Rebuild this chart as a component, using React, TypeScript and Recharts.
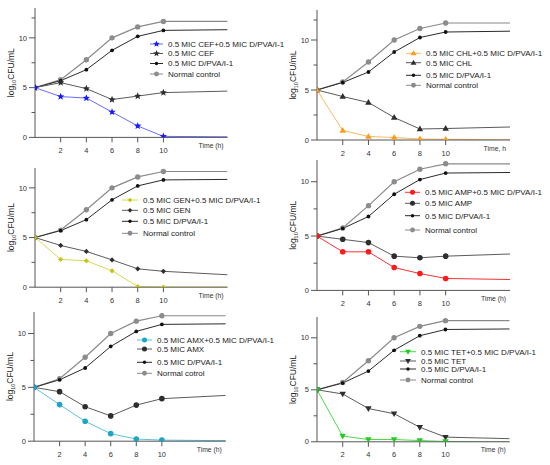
import React from 'react';
import { LineChart, Line, XAxis, YAxis, Label } from 'recharts';

// ---------- data ----------
const TIME = [0, 2, 4, 6, 8, 10, 15];
const TIME_TICKS = [2, 4, 6, 8, 10];

const normal1 = [5, 5.8, 7.8, 10, 11.1, 11.65, 11.65];
const dpva1 = [5, 5.7, 6.8, 8.75, 10.15, 10.75, 10.82];
const cef = [5, 5.5, 4.9, 3.8, 4.15, 4.5, 4.65];
const cefCombo = [5, 4.1, 3.95, 2.55, 1.15, 0.1, 0.06];

const normal2 = [5, 5.8, 7.8, 10, 11.15, 11.7, 11.7];
const dpva2 = [5, 5.75, 6.8, 8.8, 10.25, 10.8, 10.88];
const chl = [5, 4.35, 3.75, 2.25, 1.1, 1.15, 1.3];
const chlCombo = [5, 0.95, 0.35, 0.25, 0.1, 0.07, 0.02];

const normal3 = [5, 5.75, 7.8, 10, 11.1, 11.65, 11.65];
const dpva3 = [5, 5.7, 6.8, 8.8, 10.2, 10.8, 10.85];
const gen = [5, 4.2, 3.6, 2.75, 1.85, 1.6, 1.25];
const genCombo = [5, 2.8, 2.65, 1.65, 0.07, 0.02, 0.02];

const normal4 = [5, 5.75, 7.8, 10, 11.15, 11.65, 11.65];
const dpva4 = [5, 5.7, 6.8, 8.85, 10.2, 10.8, 10.85];
const amp = [5, 4.7, 4.4, 3.15, 3.0, 3.15, 3.35];
const ampCombo = [5, 3.55, 3.55, 2.1, 1.55, 1.1, 1.0];

const normal5 = [5, 5.8, 7.8, 10, 11.15, 11.65, 11.65];
const dpva5 = [5, 5.7, 6.8, 8.8, 10.2, 10.85, 10.9];
const amx = [5, 4.6, 3.2, 2.35, 3.35, 3.95, 4.25];
const amxCombo = [5, 3.4, 1.85, 0.7, 0.2, 0.1, 0.05];

const normal6 = [5, 5.7, 7.8, 10, 11.1, 11.65, 11.65];
const dpva6 = [5, 5.65, 6.8, 8.8, 10.2, 10.8, 10.85];
const tet = [5, 4.6, 3.2, 2.7, 1.4, 0.45, 0.3];
const tetCombo = [5, 0.55, 0.22, 0.22, 0.12, 0.03, 0.0];

const FONT = '"Liberation Sans", Arial, sans-serif';

type Shape = 'circle' | 'dot' | 'star' | 'tri' | 'tridown' | 'diamond';

function Marker({ shape, cx, cy, fill, size }: { shape: Shape; cx: number; cy: number; fill: string; size: number }) {
  if (shape === 'circle' || shape === 'dot') {
    return <circle cx={cx} cy={cy} r={size} fill={fill} />;
  }
  if (shape === 'star') {
    const pts: string[] = [];
    for (let i = 0; i < 10; i++) {
      const r = i % 2 === 0 ? size : size * 0.45;
      const a = -Math.PI / 2 + (i * Math.PI) / 5;
      pts.push(`${cx + r * Math.cos(a)},${cy + r * Math.sin(a)}`);
    }
    return <polygon points={pts.join(' ')} fill={fill} />;
  }
  if (shape === 'tri') {
    return <polygon points={`${cx},${cy - size} ${cx + size * 0.95},${cy + size * 0.65} ${cx - size * 0.95},${cy + size * 0.65}`} fill={fill} />;
  }
  if (shape === 'tridown') {
    return <polygon points={`${cx},${cy + size} ${cx + size * 0.95},${cy - size * 0.65} ${cx - size * 0.95},${cy - size * 0.65}`} fill={fill} />;
  }
  return <polygon points={`${cx},${cy - size} ${cx + size},${cy} ${cx},${cy + size} ${cx - size},${cy}`} fill={fill} />;
}

interface SeriesDef {
  key: string;
  name: string;
  values: number[];
  line: string;
  marker: string;
  shape: Shape;
  size: number;
  width: number;
}

interface PanelDef {
  px0: number;
  px1: number;
  py0: number;
  pyTop: number;
  yTop: number;
  yTicks: number[];
  xLabel: string;
  series: SeriesDef[]; // legend order
  legendLineX: number;
  legendTextX: number;
  legendRows: number[];
}

const NORMAL_LINE = '#8a8a8a';
const DPVA_LINE = '#2a2a2a';
const DRUG_LINE = '#5a5a5a';

function mk(
  drugName: string,
  comboVals: number[],
  drugVals: number[],
  dpvaVals: number[],
  normalVals: number[],
  comboLine: string,
  comboMarker: string,
  shape: Shape,
  drugShape: Shape,
  normalName = 'Normal control'
): SeriesDef[] {
  const sz = shape === 'star' ? 3.8 : shape === 'circle' ? 2.8 : shape === 'diamond' ? 2.6 : 3.4;
  const dsz = drugShape === 'star' ? 3.8 : drugShape === 'circle' ? 2.8 : drugShape === 'diamond' ? 2.6 : 3.4;
  return [
    { key: 'combo', name: `0.5 MIC ${drugName}+0.5 MIC D/PVA/I-1`, values: comboVals, line: comboLine, marker: comboMarker, shape, size: sz, width: 1 },
    { key: 'drug', name: `0.5 MIC ${drugName}`, values: drugVals, line: DRUG_LINE, marker: '#2e2e2e', shape: drugShape, size: dsz, width: 1 },
    { key: 'dpva', name: '0.5 MIC D/PVA/I-1', values: dpvaVals, line: DPVA_LINE, marker: '#111111', shape: 'dot', size: 1.9, width: 1 },
    { key: 'normal', name: normalName, values: normalVals, line: NORMAL_LINE, marker: '#8c8c8c', shape: 'circle', size: 2.7, width: 1.2 },
  ];
}

const PANELS: PanelDef[] = [
  {
    px0: 35.4, px1: 228, py0: 137.5, pyTop: 8.1, yTop: 13, yTicks: [0, 2.5, 5, 7.5, 10, 12], xLabel: 'Time (h)',
    series: mk('CEF', cefCombo, cef, dpva1, normal1, '#6a6aff', '#1a1aff', 'star', 'star'),
    legendLineX: 150, legendTextX: 168, legendRows: [44, 53.5, 63.5, 74],
  },
  {
    px0: 317, px1: 510, py0: 139.7, pyTop: 9.7, yTop: 13, yTicks: [0, 2.5, 5, 7.5, 10, 12], xLabel: 'Time, h',
    series: mk('CHL', chlCombo, chl, dpva2, normal2, '#ffb860', '#ff9a1a', 'tri', 'tri'),
    legendLineX: 406, legendTextX: 426, legendRows: [53.3, 62.7, 75.3, 85.3],
  },
  {
    px0: 35.4, px1: 228, py0: 286.7, pyTop: 167.5, yTop: 12, yTicks: [0, 2.5, 5, 7.5, 10], xLabel: 'Time (h)',
    series: mk('GEN', genCombo, gen, dpva3, normal3, '#d8d850', '#c4c41a', 'diamond', 'diamond'),
    legendLineX: 122, legendTextX: 143, legendRows: [200, 210.3, 221.3, 233.3],
  },
  {
    px0: 317, px1: 510, py0: 290, pyTop: 159.6, yTop: 12, yTicks: [0, 2.5, 5, 7.5, 10], xLabel: 'Time (h)',
    series: mk('AMP', ampCombo, amp, dpva4, normal4, '#ff3030', '#ff1a1a', 'circle', 'circle'),
    legendLineX: 405, legendTextX: 425, legendRows: [192.3, 203.3, 215.7, 230],
  },
  {
    px0: 33.9, px1: 225.7, py0: 441, pyTop: 311.8, yTop: 12, yTicks: [0, 2.5, 5, 7.5, 10], xLabel: 'Time (h)',
    series: mk('AMX', amxCombo, amx, dpva5, normal5, '#5cc2da', '#1aa6c4', 'circle', 'circle', 'Normal cotrol'),
    legendLineX: 137, legendTextX: 157, legendRows: [340, 349, 362.3, 373.3],
  },
  {
    px0: 317.3, px1: 510, py0: 441.7, pyTop: 316.9, yTop: 12, yTicks: [0, 2.5, 5, 7.5, 10], xLabel: 'Time (h)',
    series: mk('TET', tetCombo, tet, dpva6, normal6, '#44dd44', '#22cc22', 'tridown', 'tridown'),
    legendLineX: 400, legendTextX: 421, legendRows: [351.7, 361, 369, 380],
  },
];

const AXIS = '#555555';
const Y_W = 40;
const X_H = 25;
const M_TOP = 10;
const M_RIGHT = 10;

function YTick(props: any) {
  const { x, y, payload } = props;
  const v = payload.value;
  const major = v === 0 || v === 5 || v === 10;
  return (
    <g>
      <line x1={x - (major ? 6 : 3.5)} x2={x} y1={y} y2={y} stroke={AXIS} strokeWidth={1} />
      {major && (
        <text x={x - 8} y={y} dy={2.7} textAnchor="end" fontSize={7.5} fill="#333" fontFamily={FONT}>
          {v}
        </text>
      )}
    </g>
  );
}

function XTick(props: any) {
  const { x, y, payload } = props;
  return (
    <g>
      <line x1={x} x2={x} y1={y} y2={y + 5} stroke={AXIS} strokeWidth={1} />
      <text x={x} y={y + 15.5} textAnchor="middle" fontSize={7.5} fill="#333" fontFamily={FONT}>
        {payload.value}
      </text>
    </g>
  );
}

function Panel({ p }: { p: PanelDef }) {
  const width = p.px1 - p.px0 + Y_W + M_RIGHT;
  const height = p.py0 - p.pyTop + M_TOP + X_H;
  const data = TIME.map((t, i) => {
    const row: any = { t };
    p.series.forEach((s) => (row[s.key] = s.values[i]));
    return row;
  });
  const drawOrder = [...p.series].reverse(); // normal, dpva, drug, combo
  return (
    <div style={{ position: 'absolute', left: p.px0 - Y_W, top: p.pyTop - M_TOP }}>
      <LineChart width={width} height={height} data={data} margin={{ top: M_TOP, right: M_RIGHT, bottom: 0, left: 0 }}>
        <XAxis
          dataKey="t"
          type="number"
          domain={[0, 15]}
          ticks={TIME_TICKS}
          allowDataOverflow
          height={X_H}
          tickLine={false}
          tickSize={0}
          tickMargin={0}
          tick={<XTick />}
          axisLine={{ stroke: AXIS, strokeWidth: 1 }}
        >
          <Label
            content={(props: any) => {
              const vb = props.viewBox || {};
              return (
                <text x={vb.x + vb.width - 4} y={vb.y + 10.5} textAnchor="end" fontSize={6.8} fill="#333" fontFamily={FONT}>
                  {p.xLabel}
                </text>
              );
            }}
          />
        </XAxis>
        <YAxis
          type="number"
          domain={[0, p.yTop]}
          ticks={p.yTicks}
          allowDataOverflow
          width={Y_W}
          tickLine={false}
          tickSize={0}
          tickMargin={0}
          tick={<YTick />}
          interval={0}
          axisLine={{ stroke: AXIS, strokeWidth: 1 }}
        >
          <Label
            content={(props: any) => {
              const vb = props.viewBox || {};
              const cx = vb.x + vb.width - 24;
              const cy = vb.y + vb.height / 2;
              return (
                <text
                  x={cx}
                  y={cy}
                  transform={`rotate(-90 ${cx} ${cy})`}
                  textAnchor="middle"
                  dy={3}
                  fontSize={8.5}
                  fill="#222"
                  fontFamily={FONT}
                >
                  log
                  <tspan fontSize={5.5} dy={2}>10</tspan>
                  <tspan dy={-2}>CFU/mL</tspan>
                </text>
              );
            }}
          />
        </YAxis>
        {drawOrder.map((s) => (
          <Line
            key={s.key}
            dataKey={s.key}
            name={s.name}
            type="linear"
            stroke={s.line}
            strokeWidth={s.width}
            isAnimationActive={false}
            activeDot={false}
            dot={(dp: any) => {
              if (dp.index === TIME.length - 1) return <g key={`${s.key}-${dp.index}`} />;
              return (
                <g key={`${s.key}-${dp.index}`}>
                  <Marker shape={s.shape} cx={dp.cx} cy={dp.cy} fill={s.marker} size={s.size} />
                </g>
              );
            }}
          />
        ))}
      </LineChart>
    </div>
  );
}

function Legends() {
  return (
    <svg width={550} height={465} style={{ position: 'absolute', left: 0, top: 0, pointerEvents: 'none', overflow: 'visible' }}>
      {PANELS.map((p, pi) => (
        <g key={pi}>
          {p.series.map((s, i) => {
            const y = p.legendRows[i];
            const x1 = p.legendLineX;
            const x2 = p.legendTextX - 5;
            return (
              <g key={s.key}>
                <line x1={x1} x2={x2} y1={y} y2={y} stroke={s.line} strokeWidth={1} />
                <Marker shape={s.shape} cx={(x1 + x2) / 2} cy={y} fill={s.marker} size={s.size * 0.9} />
                <text x={p.legendTextX} y={y + 2.9} fontSize={8} fill="#222" fontFamily={FONT}>
                  {s.name}
                </text>
              </g>
            );
          })}
        </g>
      ))}
    </svg>
  );
}

export default function App() {
  return (
    <div style={{ position: 'absolute', left: 0, top: 0, width: 550, height: 465, background: '#fff', fontFamily: FONT }}>
      {PANELS.map((p, i) => (
        <Panel key={i} p={p} />
      ))}
      <Legends />
    </div>
  );
}
